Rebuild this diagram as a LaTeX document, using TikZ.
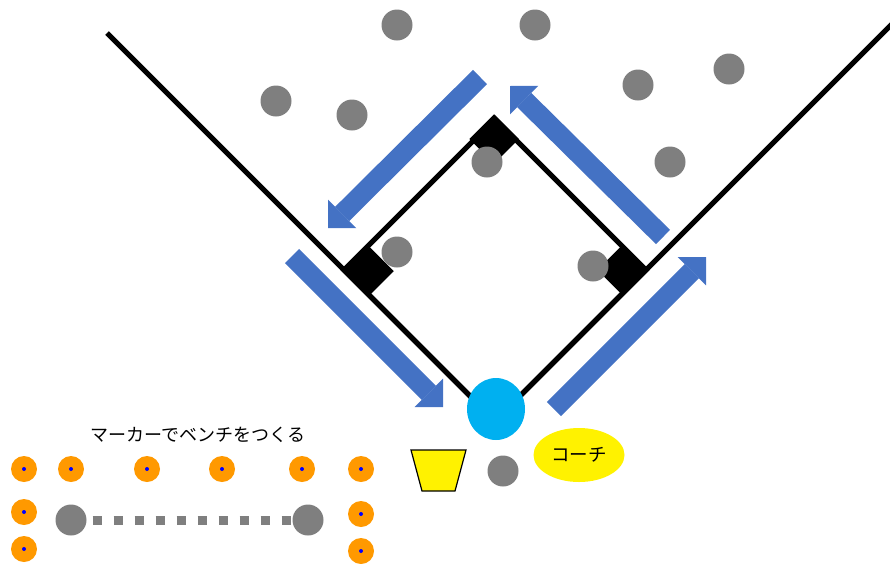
\documentclass[tikz,border=0pt]{standalone}
\usepackage{fontspec}
\newfontfamily\jpfont{Noto Sans CJK JP}
\usetikzlibrary{shapes.geometric,arrows.meta}
\definecolor{playergray}{HTML}{7F7F7F}
\definecolor{runblue}{HTML}{4472C4}
\definecolor{homecyan}{HTML}{00B0F0}
\definecolor{markerorange}{HTML}{FF9900}

\begin{document}
\begin{tikzpicture}[x=1pt,y=-1pt]
  \tikzstyle{player}=[circle,fill=playergray,minimum size=31pt,inner sep=0pt]
  \tikzstyle{base}=[rectangle,fill=black,minimum size=35pt,inner sep=0pt,rotate=45]
  \tikzstyle{marker}=[circle,fill=markerorange,minimum size=26pt,inner sep=0pt,
    path picture={\fill[blue] (path picture bounding box.center) circle (2pt);}]
  \tikzstyle{run}=[runblue,line width=20pt,-{Triangle[length=20pt,width=40pt,line width=0pt]}]
  \tikzstyle{bench}=[playergray,line width=9pt,dash pattern=on 9pt off 12pt,dash phase=15pt]

  \useasboundingbox (0,0) rectangle (890,563);

  \coordinate (LF) at (107,33);
  \coordinate (RF) at (895,21);
  \coordinate (H) at (495,421);
  \coordinate (B1) at (646,270);
  \coordinate (B2) at (495,119);
  \coordinate (B3) at (344,270);

  \draw[line width=5pt] (LF) -- (H) -- (RF);
  \draw[line width=5pt] (H) -- (B1) -- (B2) -- (B3) -- cycle;

  \node[base] (first) at (622,270) {};
  \node[base] (second) at (494,139) {};
  \node[base] (third) at (369,271) {};

  \node[ellipse,fill=homecyan,minimum width=58pt,minimum height=62pt] (home) at (496,409) {};

  % runners
  \coordinate (r1s) at (480,77);
  \coordinate (r1e) at (328,228);
  \coordinate (r2s) at (663,237);
  \coordinate (r2e) at (510,86);
  \coordinate (r3s) at (292,256);
  \coordinate (r3e) at (443,407);
  \coordinate (r4s) at (554,409);
  \coordinate (r4e) at (706,257);
  \draw[run] (r1s) -- (r1e);
  \draw[run] (r2s) -- (r2e);
  \draw[run] (r3s) -- (r3e);
  \draw[run] (r4s) -- (r4e);

  % players
  \node[player] (p1) at (397,25) {};
  \node[player] (p2) at (535,25) {};
  \node[player] (p3) at (276,101) {};
  \node[player] (p4) at (352,115) {};
  \node[player] (p5) at (638,85) {};
  \node[player] (p6) at (729,69) {};
  \node[player] (p7) at (670,162) {};
  \node[player] (p8) at (487,162) {};
  \node[player] (p9) at (397,252) {};
  \node[player] (p10) at (593,266) {};
  \node[player] (p11) at (503,471) {};

  \draw[fill=yellow,line width=1.2pt] (411,450) -- (466,450) -- (455,491) -- (422,491) -- cycle;

  \node[ellipse,fill=yellow,minimum width=91pt,minimum height=54pt,
    font=\jpfont\fontsize{18.5pt}{20pt}\selectfont] (coach) at (579,455) {コーチ};

  % bench
  \node[font=\jpfont\fontsize{18pt}{20pt}\selectfont] (title) at (198,435) {マーカーでベンチをつくる};

  \foreach \x/\y [count=\i] in {24/469,71/469,147/469,222/469,302/469,361/469,24/512,24/549,361/514,361/551}
    \node[marker] (m\i) at (\x,\y) {};

  \node[player] (b1) at (71,520) {};
  \node[player] (b2) at (308,520) {};
  \draw[bench] (b1) -- (b2);

\end{tikzpicture}
\end{document}
